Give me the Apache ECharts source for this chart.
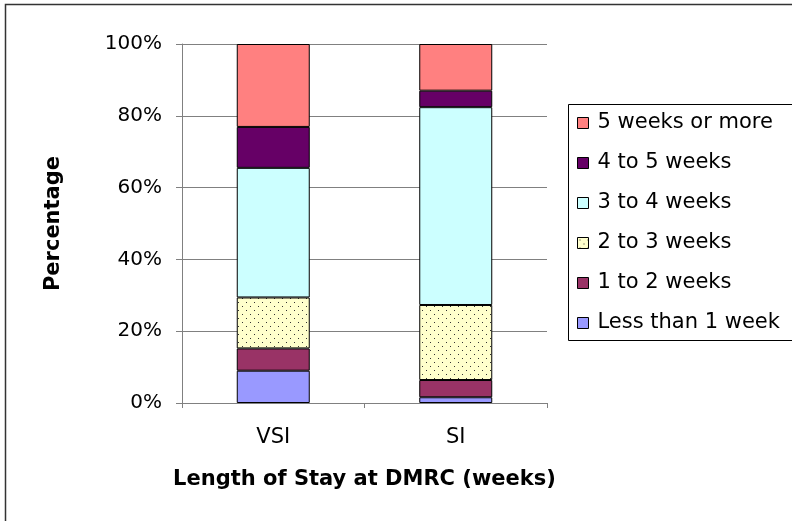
<!DOCTYPE html>
<html>
<head>
<meta charset="utf-8">
<script src="https://cdn.jsdelivr.net/npm/echarts@6/dist/echarts.min.js"></script>
<style>
html,body{margin:0;padding:0;background:#fff;}
#chart{width:792px;height:521px;}
</style>
</head>
<body>
<div id="chart"></div>
<script>
const categories = ['VSI', 'SI'];
const seriesNames = ['Less than 1 week', '1 to 2 weeks', '2 to 3 weeks', '3 to 4 weeks', '4 to 5 weeks', '5 weeks or more'];
const lessThan1 = [9.0, 1.6];
const weeks1to2 = [6.2, 4.8];
const weeks2to3 = [14.2, 20.9];
const weeks3to4 = [36.1, 55.1];
const weeks4to5 = [11.4, 4.6];
const weeks5plus = [23.1, 13.0];
const yTicks = [0, 20, 40, 60, 80, 100];

const values = [lessThan1, weeks1to2, weeks2to3, weeks3to4, weeks4to5, weeks5plus];

function dotPattern() {
  const c = document.createElement('canvas');
  c.width = 8; c.height = 8;
  const g = c.getContext('2d');
  g.fillStyle = '#FFFFCC';
  g.fillRect(0, 0, 8, 8);
  g.fillStyle = '#333333';
  g.fillRect(2, 2, 1, 1);
  g.fillRect(6, 6, 1, 1);
  return c;
}

const colors = ['#9999FF', '#993366', {image: dotPattern(), repeat: 'repeat'}, '#CCFFFF', '#660066', '#FF8080'];

const chart = echarts.init(document.getElementById('chart'));
const font = 'DejaVu Sans';

const series = seriesNames.map((name, i) => ({
  name: name,
  type: 'bar',
  stack: 'total',
  barWidth: '40%',
  data: values[i],
  itemStyle: {color: colors[i], borderColor: '#000', borderWidth: 1},
  emphasis: {disabled: true}
}));

chart.setOption({
  animation: false,
  backgroundColor: '#fff',
  textStyle: {fontFamily: font, color: '#000'},
  graphic: [
    {type: 'rect', z: -10, shape: {x: 5.5, y: 4.5, width: 800, height: 530}, style: {fill: '#fff', stroke: '#333', lineWidth: 1.5}},
    {type: 'rect', z: -5, shape: {x: 568.5, y: 104.5, width: 240, height: 236}, style: {fill: '#fff', stroke: '#000', lineWidth: 1}}
  ],
  grid: {left: 182, right: 245, top: 44, bottom: 118},
  legend: {
    orient: 'vertical',
    left: 577,
    top: 112,
    padding: 0,
    itemWidth: 11,
    itemHeight: 11,
    itemGap: 18,
    icon: 'rect',
    data: seriesNames.slice().reverse(),
    itemStyle: {borderColor: '#000', borderWidth: 1},
    textStyle: {fontFamily: font, fontSize: 21, color: '#000', lineHeight: 22, padding: [0, 0, 0, 4]}
  },
  xAxis: {
    type: 'category',
    data: categories,
    name: 'Length of Stay at DMRC (weeks)',
    nameLocation: 'middle',
    nameGap: 66,
    nameTextStyle: {fontFamily: font, fontSize: 21, fontWeight: 'bold', color: '#000'},
    axisLine: {lineStyle: {color: '#808080', width: 1}},
    axisTick: {show: true, length: 5, alignWithLabel: false, lineStyle: {color: '#808080'}},
    axisLabel: {fontFamily: font, fontSize: 21, color: '#000', margin: 24}
  },
  yAxis: {
    type: 'value',
    min: 0,
    max: 100,
    interval: 20,
    name: 'Percentage',
    nameLocation: 'middle',
    nameGap: 118,
    nameTextStyle: {fontFamily: font, fontSize: 21, fontWeight: 'bold', color: '#000'},
    axisLine: {show: true, lineStyle: {color: '#808080', width: 1}},
    axisTick: {show: true, length: 6, lineStyle: {color: '#808080'}},
    axisLabel: {fontFamily: font, fontSize: 20, color: '#000', margin: 20, formatter: '{value}%'},
    splitLine: {show: true, lineStyle: {color: '#808080', width: 1}}
  },
  series: series
});
</script>
</body>
</html>
